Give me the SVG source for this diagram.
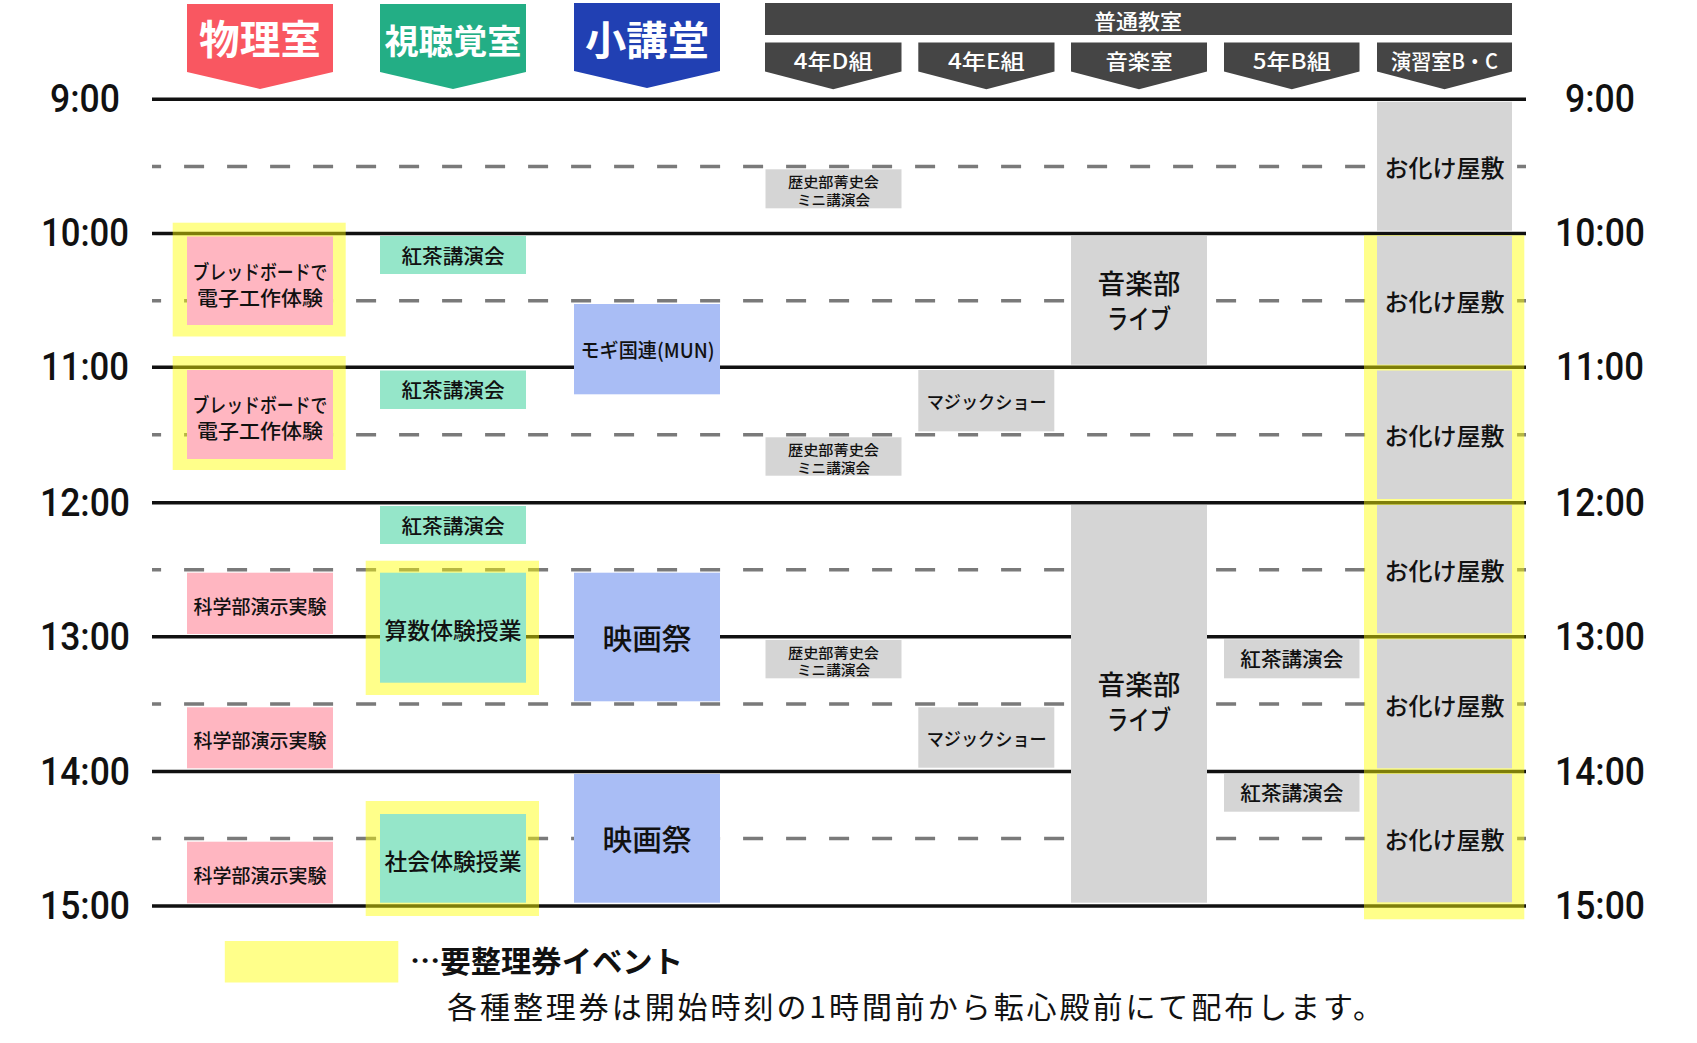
<svg xmlns="http://www.w3.org/2000/svg" width="1697" height="1043" viewBox="0 0 1697 1043">
<style>
text{font-family:"Noto Sans CJK JP","Noto Sans",sans-serif;}
.c{text-anchor:middle;dominant-baseline:central;}
.time{font-family:Roboto,"Liberation Sans",sans-serif;font-size:38px;font-weight:500;fill:#111;text-anchor:middle;dominant-baseline:central;}
.solid{stroke:#111;stroke-width:3.5;fill:none;}
.dash{stroke:#7a7a7a;stroke-width:3.5;stroke-dasharray:20 23;stroke-dashoffset:10.9;fill:none;}
.hy{fill:#ffff00;fill-opacity:0.46;}
.pink{fill:#ffb6c1;}
.green{fill:#95e6c9;}
.blue{fill:#a9bdf5;}
.gray{fill:#d5d5d5;}
.ev{fill:#111;font-weight:500;}
.hdr{fill:#fff;font-weight:bold;}
.sub{fill:#fff;font-size:21px;font-weight:500;}
</style>

<g id="grid">
  <line class="solid" x1="152" y1="99.3" x2="1526" y2="99.3"/>
  <line class="dash" x1="152" y1="166.6" x2="1526" y2="166.6"/>
  <line class="solid" x1="152" y1="233.4" x2="1526" y2="233.4"/>
  <line class="dash" x1="152" y1="300.7" x2="1526" y2="300.7"/>
  <line class="solid" x1="152" y1="367.3" x2="1526" y2="367.3"/>
  <line class="dash" x1="152" y1="434.8" x2="1526" y2="434.8"/>
  <line class="solid" x1="152" y1="502.7" x2="1526" y2="502.7"/>
  <line class="dash" x1="152" y1="569.8" x2="1526" y2="569.8"/>
  <line class="solid" x1="152" y1="636.8" x2="1526" y2="636.8"/>
  <line class="dash" x1="152" y1="704" x2="1526" y2="704"/>
  <line class="solid" x1="152" y1="771.6" x2="1526" y2="771.6"/>
  <line class="dash" x1="152" y1="838.4" x2="1526" y2="838.4"/>
  <line class="solid" x1="152" y1="906" x2="1526" y2="906"/>
</g>

<g id="time-labels">
  <text class="time" x="85" y="99.3" textLength="70" lengthAdjust="spacingAndGlyphs">9:00</text>
  <text class="time" x="85" y="233.4" textLength="88" lengthAdjust="spacingAndGlyphs">10:00</text>
  <text class="time" x="85" y="367.3" textLength="88" lengthAdjust="spacingAndGlyphs">11:00</text>
  <text class="time" x="85" y="502.7" textLength="90" lengthAdjust="spacingAndGlyphs">12:00</text>
  <text class="time" x="85" y="636.8" textLength="90" lengthAdjust="spacingAndGlyphs">13:00</text>
  <text class="time" x="85" y="771.6" textLength="90" lengthAdjust="spacingAndGlyphs">14:00</text>
  <text class="time" x="85" y="906" textLength="90" lengthAdjust="spacingAndGlyphs">15:00</text>
  <text class="time" x="1600" y="99.3" textLength="70" lengthAdjust="spacingAndGlyphs">9:00</text>
  <text class="time" x="1600" y="233.4" textLength="90" lengthAdjust="spacingAndGlyphs">10:00</text>
  <text class="time" x="1600" y="367.3" textLength="88" lengthAdjust="spacingAndGlyphs">11:00</text>
  <text class="time" x="1600" y="502.7" textLength="90" lengthAdjust="spacingAndGlyphs">12:00</text>
  <text class="time" x="1600" y="636.8" textLength="90" lengthAdjust="spacingAndGlyphs">13:00</text>
  <text class="time" x="1600" y="771.6" textLength="90" lengthAdjust="spacingAndGlyphs">14:00</text>
  <text class="time" x="1600" y="906" textLength="90" lengthAdjust="spacingAndGlyphs">15:00</text>
</g>

<g id="hdr-butsuri">
  <polygon points="187,4 333,4 333,72 260,89 187,72" fill="#f95761"/>
  <text class="c hdr" x="260" y="37" font-size="40" textLength="122" lengthAdjust="spacingAndGlyphs">物理室</text>
</g>
<g id="hdr-shichokaku">
  <polygon points="380,4 526,4 526,72 453,89 380,72" fill="#23ae85"/>
  <text class="c hdr" x="453" y="39.5" font-size="34" textLength="137" lengthAdjust="spacingAndGlyphs">視聴覚室</text>
</g>
<g id="hdr-shokodo">
  <polygon points="574,3 720,3 720,71 647,88 574,71" fill="#2140b3"/>
  <text class="c hdr" x="647" y="37.5" font-size="40" textLength="124" lengthAdjust="spacingAndGlyphs">小講堂</text>
</g>
<g id="hdr-futsu">
  <rect x="765" y="3" width="747" height="32" fill="#454545"/>
  <text class="c sub" x="1138" y="20" font-size="19" textLength="88" lengthAdjust="spacingAndGlyphs">普通教室</text>
</g>
<g id="hdr-4d">
  <polygon points="765,42.5 901.5,42.5 901.5,71.5 833.2,89.3 765,71.5" fill="#454545"/>
  <text class="c sub" x="833.2" y="60" textLength="79" lengthAdjust="spacingAndGlyphs">4年D組</text>
</g>
<g id="hdr-4e">
  <polygon points="918.3,42.5 1054.5,42.5 1054.5,71.5 986.4,89.3 918.3,71.5" fill="#454545"/>
  <text class="c sub" x="986.4" y="60" textLength="77" lengthAdjust="spacingAndGlyphs">4年E組</text>
</g>
<g id="hdr-ongaku">
  <polygon points="1071,42.5 1207,42.5 1207,71.5 1139,89.3 1071,71.5" fill="#454545"/>
  <text class="c sub" x="1139" y="60" textLength="67" lengthAdjust="spacingAndGlyphs">音楽室</text>
</g>
<g id="hdr-5b">
  <polygon points="1224,42.5 1359.5,42.5 1359.5,71.5 1291.8,89.3 1224,71.5" fill="#454545"/>
  <text class="c sub" x="1291.8" y="60" textLength="78" lengthAdjust="spacingAndGlyphs">5年B組</text>
</g>
<g id="hdr-enshu">
  <polygon points="1377,42.5 1512,42.5 1512,71.5 1444.5,89.3 1377,71.5" fill="#454545"/>
  <text class="c sub" x="1444.5" y="60" textLength="107" lengthAdjust="spacingAndGlyphs">演習室B・C</text>
</g>

<!-- highlights (semi-transparent, over grid) -->
<g id="highlights">
  <rect class="hy" x="172.7" y="222.7" width="173" height="113.8"/>
  <rect class="hy" x="172.7" y="356" width="173" height="114"/>
  <rect class="hy" x="365.7" y="560.7" width="173.3" height="134.3"/>
  <rect class="hy" x="365.7" y="801" width="173.3" height="115"/>
  <rect class="hy" x="1364" y="235.2" width="160.3" height="684.1"/>
</g>

<!-- 物理室 -->
<g id="ev-bread1">
  <rect class="pink" x="187" y="236.5" width="146" height="88.5"/>
  <text class="c ev" font-size="20"><tspan x="260" y="270.5" textLength="135" lengthAdjust="spacingAndGlyphs">ブレッドボードで</tspan><tspan x="260" y="296.5" textLength="126" lengthAdjust="spacingAndGlyphs">電子工作体験</tspan></text>
</g>
<g id="ev-bread2">
  <rect class="pink" x="187" y="370" width="146" height="89"/>
  <text class="c ev" font-size="20"><tspan x="260" y="404" textLength="135" lengthAdjust="spacingAndGlyphs">ブレッドボードで</tspan><tspan x="260" y="430" textLength="126" lengthAdjust="spacingAndGlyphs">電子工作体験</tspan></text>
</g>
<g id="ev-kagaku1">
  <rect class="pink" x="187" y="572.7" width="146" height="61.3"/>
  <text class="c ev" x="260" y="605" font-size="19" textLength="133" lengthAdjust="spacingAndGlyphs">科学部演示実験</text>
</g>
<g id="ev-kagaku2">
  <rect class="pink" x="187" y="707.3" width="146" height="61"/>
  <text class="c ev" x="260" y="739.5" font-size="19" textLength="133" lengthAdjust="spacingAndGlyphs">科学部演示実験</text>
</g>
<g id="ev-kagaku3">
  <rect class="pink" x="187" y="841.7" width="146" height="61.6"/>
  <text class="c ev" x="260" y="874" font-size="19" textLength="133" lengthAdjust="spacingAndGlyphs">科学部演示実験</text>
</g>

<!-- 視聴覚室 -->
<g id="ev-kocha1">
  <rect class="green" x="380" y="236" width="146" height="38"/>
  <text class="c ev" x="453" y="255" font-size="20" textLength="103" lengthAdjust="spacingAndGlyphs">紅茶講演会</text>
</g>
<g id="ev-kocha2">
  <rect class="green" x="380" y="370.5" width="146" height="38.5"/>
  <text class="c ev" x="453" y="389.5" font-size="20" textLength="103" lengthAdjust="spacingAndGlyphs">紅茶講演会</text>
</g>
<g id="ev-kocha3">
  <rect class="green" x="380" y="506" width="146" height="38"/>
  <text class="c ev" x="453" y="525" font-size="20" textLength="103" lengthAdjust="spacingAndGlyphs">紅茶講演会</text>
</g>
<g id="ev-sansu">
  <rect class="green" x="380" y="572.7" width="146" height="110"/>
  <text class="c ev" x="453" y="629.3" font-size="23" textLength="137" lengthAdjust="spacingAndGlyphs">算数体験授業</text>
</g>
<g id="ev-shakai">
  <rect class="green" x="380" y="814" width="146" height="88.7"/>
  <text class="c ev" x="453" y="860" font-size="23" textLength="137" lengthAdjust="spacingAndGlyphs">社会体験授業</text>
</g>

<!-- 小講堂 -->
<g id="ev-mun">
  <rect class="blue" x="574" y="304" width="146" height="90.3"/>
  <text class="c ev" x="647.5" y="349" font-size="20" textLength="134" lengthAdjust="spacingAndGlyphs">モギ国連(MUN)</text>
</g>
<g id="ev-eiga1">
  <rect class="blue" x="574" y="572.7" width="146" height="128.6"/>
  <text class="c ev" x="647" y="636.7" font-size="29" textLength="89" lengthAdjust="spacingAndGlyphs">映画祭</text>
</g>
<g id="ev-eiga2">
  <rect class="blue" x="574" y="774" width="146" height="128.7"/>
  <text class="c ev" x="647" y="838.3" font-size="29" textLength="89" lengthAdjust="spacingAndGlyphs">映画祭</text>
</g>

<!-- 4年D組 -->
<g id="ev-rekishi1">
  <rect class="gray" x="765.5" y="169.3" width="136" height="39"/>
  <text class="c ev" font-size="14"><tspan x="833.5" y="181" textLength="91" lengthAdjust="spacingAndGlyphs">歴史部菁史会</tspan><tspan x="833.5" y="198.5" textLength="73" lengthAdjust="spacingAndGlyphs">ミニ講演会</tspan></text>
</g>
<g id="ev-rekishi2">
  <rect class="gray" x="765.5" y="437.3" width="136" height="38.4"/>
  <text class="c ev" font-size="14"><tspan x="833.5" y="449" textLength="91" lengthAdjust="spacingAndGlyphs">歴史部菁史会</tspan><tspan x="833.5" y="466.5" textLength="73" lengthAdjust="spacingAndGlyphs">ミニ講演会</tspan></text>
</g>
<g id="ev-rekishi3">
  <rect class="gray" x="765.5" y="640" width="136" height="38.3"/>
  <text class="c ev" font-size="14"><tspan x="833.5" y="651.7" textLength="91" lengthAdjust="spacingAndGlyphs">歴史部菁史会</tspan><tspan x="833.5" y="669.2" textLength="73" lengthAdjust="spacingAndGlyphs">ミニ講演会</tspan></text>
</g>

<!-- 4年E組 -->
<g id="ev-magic1">
  <rect class="gray" x="918.3" y="370" width="136" height="61.3"/>
  <text class="c ev" x="986.7" y="400.7" font-size="18" textLength="120" lengthAdjust="spacingAndGlyphs">マジックショー</text>
</g>
<g id="ev-magic2">
  <rect class="gray" x="918.3" y="707.3" width="136" height="60.4"/>
  <text class="c ev" x="986.7" y="737.5" font-size="18" textLength="120" lengthAdjust="spacingAndGlyphs">マジックショー</text>
</g>

<!-- 音楽室 -->
<g id="ev-live1">
  <rect class="gray" x="1071" y="236" width="136" height="128.7"/>
  <text class="c ev" font-size="27"><tspan x="1139" y="281.5" textLength="83" lengthAdjust="spacingAndGlyphs">音楽部</tspan><tspan x="1139" y="316.5" textLength="64" lengthAdjust="spacingAndGlyphs">ライブ</tspan></text>
</g>
<g id="ev-live2">
  <rect class="gray" x="1071" y="505" width="136" height="397.7"/>
  <text class="c ev" font-size="27"><tspan x="1139" y="682.5" textLength="83" lengthAdjust="spacingAndGlyphs">音楽部</tspan><tspan x="1139" y="717.5" textLength="64" lengthAdjust="spacingAndGlyphs">ライブ</tspan></text>
</g>

<!-- 5年B組 -->
<g id="ev-kocha4">
  <rect class="gray" x="1224" y="639.3" width="135.5" height="39"/>
  <text class="c ev" x="1291.8" y="658.5" font-size="20" textLength="103" lengthAdjust="spacingAndGlyphs">紅茶講演会</text>
</g>
<g id="ev-kocha5">
  <rect class="gray" x="1224" y="774" width="135.5" height="37.7"/>
  <text class="c ev" x="1291.8" y="792.5" font-size="20" textLength="103" lengthAdjust="spacingAndGlyphs">紅茶講演会</text>
</g>

<!-- 演習室B・C -->
<g id="ev-obake1">
  <rect class="gray" x="1377" y="101.7" width="135" height="129"/>
  <text class="c ev" x="1444.5" y="166.6" font-size="24" textLength="120" lengthAdjust="spacingAndGlyphs">お化け屋敷</text>
</g>
<g id="ev-obake2">
  <rect class="gray" x="1377" y="236" width="135" height="128.7"/>
  <text class="c ev" x="1444.5" y="300.7" font-size="24" textLength="120" lengthAdjust="spacingAndGlyphs">お化け屋敷</text>
</g>
<g id="ev-obake3">
  <rect class="gray" x="1377" y="370.5" width="135" height="128.5"/>
  <text class="c ev" x="1444.5" y="434.8" font-size="24" textLength="120" lengthAdjust="spacingAndGlyphs">お化け屋敷</text>
</g>
<g id="ev-obake4">
  <rect class="gray" x="1377" y="505" width="135" height="128.3"/>
  <text class="c ev" x="1444.5" y="569.8" font-size="24" textLength="120" lengthAdjust="spacingAndGlyphs">お化け屋敷</text>
</g>
<g id="ev-obake5">
  <rect class="gray" x="1377" y="639.3" width="135" height="129"/>
  <text class="c ev" x="1444.5" y="704" font-size="24" textLength="120" lengthAdjust="spacingAndGlyphs">お化け屋敷</text>
</g>
<g id="ev-obake6">
  <rect class="gray" x="1377" y="774" width="135" height="128.3"/>
  <text class="c ev" x="1444.5" y="838.4" font-size="24" textLength="120" lengthAdjust="spacingAndGlyphs">お化け屋敷</text>
</g>

<g id="legend">
  <rect x="224.8" y="941" width="173.5" height="41.5" fill="#ffff8a"/>
  <text x="410" y="958.5" dominant-baseline="central" font-size="30" font-weight="bold" fill="#111" textLength="273" lengthAdjust="spacingAndGlyphs">…要整理券イベント</text>
  <text x="447" y="1005" dominant-baseline="central" font-size="30" fill="#111" textLength="936" lengthAdjust="spacing">各種整理券は開始時刻の1時間前から転心殿前にて配布します。</text>
</g>
</svg>
